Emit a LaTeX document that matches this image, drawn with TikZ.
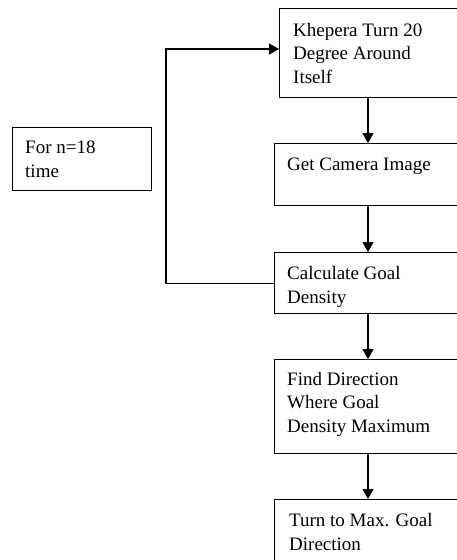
\documentclass[tikz,border=0pt]{standalone}
\usepackage{fontspec}
\setmainfont{Liberation Serif}
\usetikzlibrary{arrows.meta}
\begin{document}
\begin{tikzpicture}[x=1pt,y=-1pt,
  box/.style={draw=black, line width=1.3pt, rectangle, inner sep=0pt, anchor=north west},
  txt/.style={anchor=base west, inner sep=0pt, align=left, font=\fontsize{19}{23.5}\selectfont},
  arr/.style={draw=black, line width=1.3pt, -{Triangle[width=11pt,length=10pt]}}]
\clip (0,0) rectangle (457,560);
% boxes
\node[box, minimum width=200pt, minimum height=89pt] (b1) at (279,8) {};
\node[box, minimum width=200pt, minimum height=62pt] (b2) at (274,143) {};
\node[box, minimum width=200pt, minimum height=61pt] (b3) at (274,252) {};
\node[box, minimum width=200pt, minimum height=94pt] (b4) at (274,359) {};
\node[box, minimum width=200pt, minimum height=80pt] (b5) at (274,499) {};
\node[box, minimum width=139pt, minimum height=63pt] (b0) at (12,127) {};
% texts (anchor = baseline of last line)
\node[txt] (t1) at (293,83) {Khepera Turn 20\\Degree Around\\Itself};
\node[txt] (t2) at (287,170) {Get Camera Image};
\node[txt] (t3) at (287,303) {Calculate Goal\\Density};
\node[txt] (t4) at (287,432) {Find Direction\\Where Goal\\Density Maximum};
\node[txt] (t5) at (289,550) {Turn to Max. Goal\\Direction};
\node[txt] (t0) at (25,177) {For n=18\\time};
% connectors
\coordinate (ax) at (368,0);
\coordinate (lp) at (166,49);
\draw[arr] (b1.south -| ax) -- (b2.north -| ax);
\draw[arr] (b2.south -| ax) -- (b3.north -| ax);
\draw[arr] (b3.south -| ax) -- (b4.north -| ax);
\draw[arr] (b4.south -| ax) -- (b5.north -| ax);
\draw[arr] (b3.west) -| (lp) -- (lp -| b1.west);
\end{tikzpicture}
\end{document}
